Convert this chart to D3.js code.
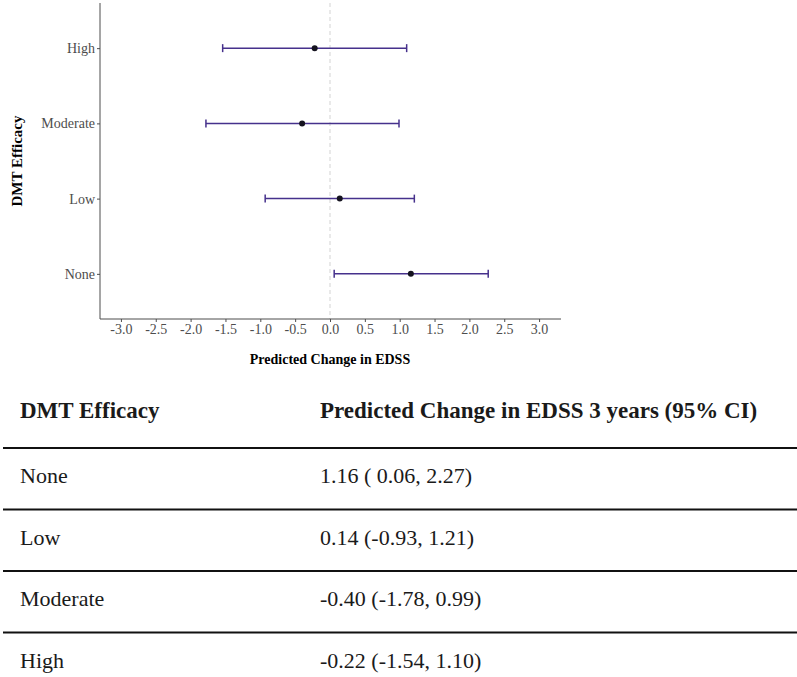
<!DOCTYPE html>
<html>
<head>
<meta charset="utf-8">
<script src="https://cdn.jsdelivr.net/npm/d3@7"></script>
<style>
html, body {
  margin: 0;
  padding: 0;
  background: #fff;
  overflow: hidden;
}
svg text {
  font-family: 'Liberation Serif', 'Times New Roman', serif;
}
</style>
</head>
<body>
<script>

// model output, one entry per DMT efficacy level
var levels = ['None', 'Low', 'Moderate', 'High'],
    estimate = [1.16, 0.14, -0.40, -0.22],
    lower = [0.06, -0.93, -1.78, -1.54],
    upper = [2.27, 1.21, 0.99, 1.10];

var xTicks = [-3.0, -2.5, -2.0, -1.5, -1.0, -0.5, 0.0, 0.5, 1.0, 1.5, 2.0, 2.5, 3.0];

var tableHeader = ['DMT Efficacy', 'Predicted Change in EDSS 3 years (95% CI)'];

var w = 797,
    h = 677;

var svg = d3.select('body').append('svg')
  .attr('width', w)
  .attr('height', h);

var rows = levels.map(function(d, i) {
  return {level: d, est: estimate[i], lo: lower[i], hi: upper[i]};
});

// ---- forest plot ----
var plot = {left: 100, right: 560, top: 3, bottom: 319};

var x = d3.scaleLinear()
  .domain([-3.3, 3.3])
  .range([plot.left, plot.right]);

// first factor level sits at the bottom, like ggplot
var y = d3.scalePoint()
  .domain(levels.slice().reverse())
  .range([plot.top, plot.bottom])
  .padding(0.6);

var axisGrey = '#4d4d4d';

// reference line at zero
svg.append('line')
  .attr('x1', x(0)).attr('x2', x(0))
  .attr('y1', plot.top).attr('y2', plot.bottom)
  .attr('stroke', '#d3d3d3')
  .attr('stroke-width', 1)
  .attr('stroke-dasharray', '4,3');

// plain hyphen for negatives, as in the original
var fmt = function(d) { return d.toFixed(1); };

var xAxis = svg.append('g')
  .attr('transform', 'translate(0,' + plot.bottom + ')')
  .call(d3.axisBottom(x).tickValues(xTicks).tickSize(3).tickPadding(2)
    .tickFormat(fmt));

var yAxis = svg.append('g')
  .attr('transform', 'translate(' + plot.left + ',0)')
  .call(d3.axisLeft(y).tickSize(3).tickPadding(2));

xAxis.select('.domain').attr('d', 'M' + plot.left + ',0H' + (plot.right + 1));
yAxis.select('.domain').attr('d', 'M0,' + plot.top + 'V' + plot.bottom);

[xAxis, yAxis].forEach(function(g) {
  g.attr('font-size', 14);
  g.select('.domain').attr('stroke', axisGrey);
  g.selectAll('.tick line').attr('stroke', axisGrey);
  g.selectAll('.tick text').attr('fill', axisGrey);
});

// error bars
var barColor = '#46318c',
    cap = 4;

var bars = svg.append('g').selectAll('g')
  .data(rows)
  .enter().append('g');

bars.append('line')
  .attr('x1', function(d) { return x(d.lo); })
  .attr('x2', function(d) { return x(d.hi); })
  .attr('y1', function(d) { return y(d.level); })
  .attr('y2', function(d) { return y(d.level); })
  .attr('stroke', barColor)
  .attr('stroke-width', 1.5);

bars.selectAll('line.cap')
  .data(function(d) { return [{v: d.lo, l: d.level}, {v: d.hi, l: d.level}]; })
  .enter().append('line')
  .attr('class', 'cap')
  .attr('x1', function(d) { return x(d.v); })
  .attr('x2', function(d) { return x(d.v); })
  .attr('y1', function(d) { return y(d.l) - cap; })
  .attr('y2', function(d) { return y(d.l) + cap; })
  .attr('stroke', barColor)
  .attr('stroke-width', 1.5);

bars.append('circle')
  .attr('cx', function(d) { return x(d.est); })
  .attr('cy', function(d) { return y(d.level); })
  .attr('r', 3)
  .attr('fill', '#15131f');

// axis titles
svg.append('text')
  .attr('x', (plot.left + plot.right) / 2)
  .attr('y', 364)
  .attr('text-anchor', 'middle')
  .attr('font-weight', 'bold')
  .attr('font-size', 14)
  .text('Predicted Change in EDSS');

svg.append('text')
  .attr('transform', 'translate(22,' + (plot.top + plot.bottom) / 2 + ') rotate(-90)')
  .attr('text-anchor', 'middle')
  .attr('font-weight', 'bold')
  .attr('font-size', 15)
  .text('DMT Efficacy');

// ---- summary table ----
var colX = [20, 320],
    headerY = 418,
    firstRuleY = 448,
    rowStep = 61.5;

function ci(d) {
  return d.est.toFixed(2) + ' (' + (d.lo >= 0 ? '\u00a0' : '') + d.lo.toFixed(2) +
    ', ' + d.hi.toFixed(2) + ')';
}

svg.selectAll('text.head')
  .data(tableHeader)
  .enter().append('text')
  .attr('class', 'head')
  .attr('x', function(d, i) { return colX[i]; })
  .attr('y', headerY)
  .attr('font-weight', 'bold')
  .attr('font-size', 23)
  .attr('fill', '#1a1a1a')
  .text(function(d) { return d; });

svg.selectAll('line.rule')
  .data(d3.range(levels.length))
  .enter().append('line')
  .attr('class', 'rule')
  .attr('x1', 3).attr('x2', w)
  .attr('y1', function(i) { return firstRuleY + i * rowStep; })
  .attr('y2', function(i) { return firstRuleY + i * rowStep; })
  .attr('stroke', '#111')
  .attr('stroke-width', 2);

var trow = svg.selectAll('g.trow')
  .data(rows)
  .enter().append('g')
  .attr('class', 'trow')
  .attr('transform', function(d, i) {
    return 'translate(0,' + (firstRuleY + i * rowStep + 35) + ')';
  });

trow.append('text')
  .attr('x', colX[0])
  .attr('font-size', 22)
  .attr('fill', '#1a1a1a')
  .text(function(d) { return d.level; });

trow.append('text')
  .attr('x', colX[1])
  .attr('font-size', 22)
  .attr('fill', '#1a1a1a')
  .text(ci);

</script>
</body>
</html>
